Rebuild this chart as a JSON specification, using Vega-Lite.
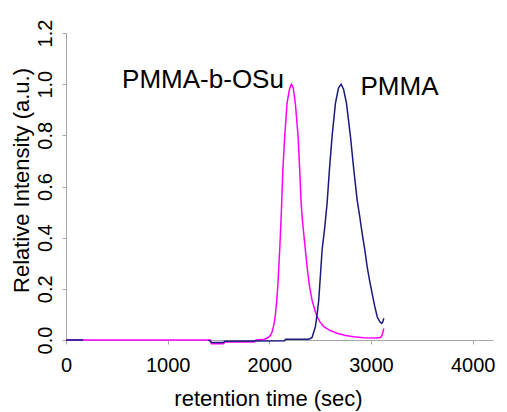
{
  "$schema": "https://vega.github.io/schema/vega-lite/v6.json",
  "width": 427,
  "height": 307,
  "autosize": {"type": "none"},
  "padding": {"left": 66, "top": 33, "right": 14, "bottom": 72},
  "background": "white",
  "config": {
    "view": {"stroke": null},
    "font": "Liberation Sans",
    "axis": {
      "grid": false,
      "domainColor": "#a6a6a6",
      "tickColor": "#a6a6a6",
      "labelColor": "#000000",
      "titleColor": "#000000",
      "labelFont": "Liberation Sans",
      "titleFont": "Liberation Sans",
      "labelFontSize": 20,
      "titleFontSize": 22,
      "titleFontWeight": "normal",
      "tickSize": 4
    }
  },
  "datasets": {
    "osu": [
      {"t": 0, "v": 0}, {"t": 1420, "v": 0}, {"t": 1430, "v": -0.015}, {"t": 1550, "v": -0.015},
      {"t": 1560, "v": -0.008}, {"t": 1850, "v": -0.008}, {"t": 1870, "v": 0}, {"t": 1950, "v": 0.003},
      {"t": 1977, "v": 0.007}, {"t": 2005, "v": 0.015}, {"t": 2026, "v": 0.03}, {"t": 2045, "v": 0.06},
      {"t": 2059, "v": 0.095}, {"t": 2072, "v": 0.15}, {"t": 2085, "v": 0.222}, {"t": 2095, "v": 0.3},
      {"t": 2102, "v": 0.352}, {"t": 2112, "v": 0.44}, {"t": 2122, "v": 0.54}, {"t": 2133, "v": 0.665},
      {"t": 2151, "v": 0.795}, {"t": 2174, "v": 0.925}, {"t": 2198, "v": 0.98}, {"t": 2217, "v": 1.0},
      {"t": 2235, "v": 0.985}, {"t": 2256, "v": 0.925}, {"t": 2283, "v": 0.795}, {"t": 2299, "v": 0.665},
      {"t": 2312, "v": 0.54}, {"t": 2325, "v": 0.47}, {"t": 2338, "v": 0.417}, {"t": 2355, "v": 0.35},
      {"t": 2371, "v": 0.287}, {"t": 2395, "v": 0.21}, {"t": 2420, "v": 0.156}, {"t": 2445, "v": 0.12},
      {"t": 2470, "v": 0.091}, {"t": 2500, "v": 0.07}, {"t": 2535, "v": 0.052}, {"t": 2600, "v": 0.037},
      {"t": 2667, "v": 0.026}, {"t": 2750, "v": 0.018}, {"t": 2831, "v": 0.013}, {"t": 2929, "v": 0.009},
      {"t": 3050, "v": 0.008}, {"t": 3094, "v": 0.01}, {"t": 3110, "v": 0.02}, {"t": 3126, "v": 0.045}
    ],
    "pmma": [
      {"part": "a", "t": 0, "v": 0}, {"part": "a", "t": 170, "v": 0},
      {"part": "b", "t": 1400, "v": 0}, {"part": "b", "t": 1435, "v": -0.01}, {"part": "b", "t": 1550, "v": -0.01},
      {"part": "b", "t": 1560, "v": -0.005}, {"part": "b", "t": 2150, "v": -0.003}, {"part": "b", "t": 2160, "v": 0.003},
      {"part": "b", "t": 2380, "v": 0.003}, {"part": "b", "t": 2400, "v": 0.005}, {"part": "b", "t": 2420, "v": 0.01},
      {"part": "b", "t": 2440, "v": 0.035}, {"part": "b", "t": 2453, "v": 0.052}, {"part": "b", "t": 2470, "v": 0.1},
      {"part": "b", "t": 2486, "v": 0.156}, {"part": "b", "t": 2502, "v": 0.25}, {"part": "b", "t": 2519, "v": 0.352},
      {"part": "b", "t": 2545, "v": 0.44}, {"part": "b", "t": 2568, "v": 0.534}, {"part": "b", "t": 2591, "v": 0.665},
      {"part": "b", "t": 2617, "v": 0.795}, {"part": "b", "t": 2650, "v": 0.925}, {"part": "b", "t": 2680, "v": 0.985},
      {"part": "b", "t": 2706, "v": 1.0}, {"part": "b", "t": 2730, "v": 0.98}, {"part": "b", "t": 2759, "v": 0.925},
      {"part": "b", "t": 2798, "v": 0.795}, {"part": "b", "t": 2831, "v": 0.665}, {"part": "b", "t": 2864, "v": 0.547},
      {"part": "b", "t": 2890, "v": 0.48}, {"part": "b", "t": 2913, "v": 0.417}, {"part": "b", "t": 2940, "v": 0.35},
      {"part": "b", "t": 2962, "v": 0.287}, {"part": "b", "t": 2985, "v": 0.235}, {"part": "b", "t": 3011, "v": 0.182},
      {"part": "b", "t": 3035, "v": 0.135}, {"part": "b", "t": 3061, "v": 0.091}, {"part": "b", "t": 3085, "v": 0.072},
      {"part": "b", "t": 3105, "v": 0.065}, {"part": "b", "t": 3115, "v": 0.07}, {"part": "b", "t": 3126, "v": 0.085}
    ],
    "labels": [
      {"label": "PMMA-b-OSu", "t": 552, "v": 0.985},
      {"label": "PMMA", "t": 2897, "v": 0.958}
    ]
  },
  "encoding": {
    "x": {
      "field": "t", "type": "quantitative",
      "scale": {"domain": [0, 4200], "nice": false, "zero": false},
      "axis": {
        "values": [0, 1000, 2000, 3000, 4000],
        "format": "d",
        "title": "retention time (sec)",
        "labelPadding": 11,
        "labelFlush": false,
        "titleX": 202,
        "titleY": 48
      }
    },
    "y": {
      "field": "v", "type": "quantitative",
      "scale": {"domain": [0, 1.2], "nice": false, "zero": false},
      "axis": {
        "values": [0, 0.2, 0.4, 0.6, 0.8, 1.0, 1.2],
        "format": ".1f",
        "title": "Relative Intensity (a.u.)",
        "labelAngle": -90,
        "labelAlign": "center",
        "labelBaseline": "bottom",
        "labelPadding": 7,
        "labelFlush": false,
        "titleX": -33,
        "titleY": 147
      }
    }
  },
  "layer": [
    {
      "data": {"name": "osu"},
      "mark": {"type": "line", "color": "#ff00ff", "strokeWidth": 1.5},
      "encoding": {}
    },
    {
      "data": {"name": "pmma"},
      "mark": {"type": "line", "color": "#1a1a80", "strokeWidth": 1.5},
      "encoding": {"detail": {"field": "part"}}
    },
    {
      "data": {"name": "labels"},
      "mark": {"type": "text", "align": "left", "baseline": "alphabetic", "fontSize": 26, "font": "Liberation Sans", "color": "#000000"},
      "encoding": {"text": {"field": "label"}}
    }
  ]
}
